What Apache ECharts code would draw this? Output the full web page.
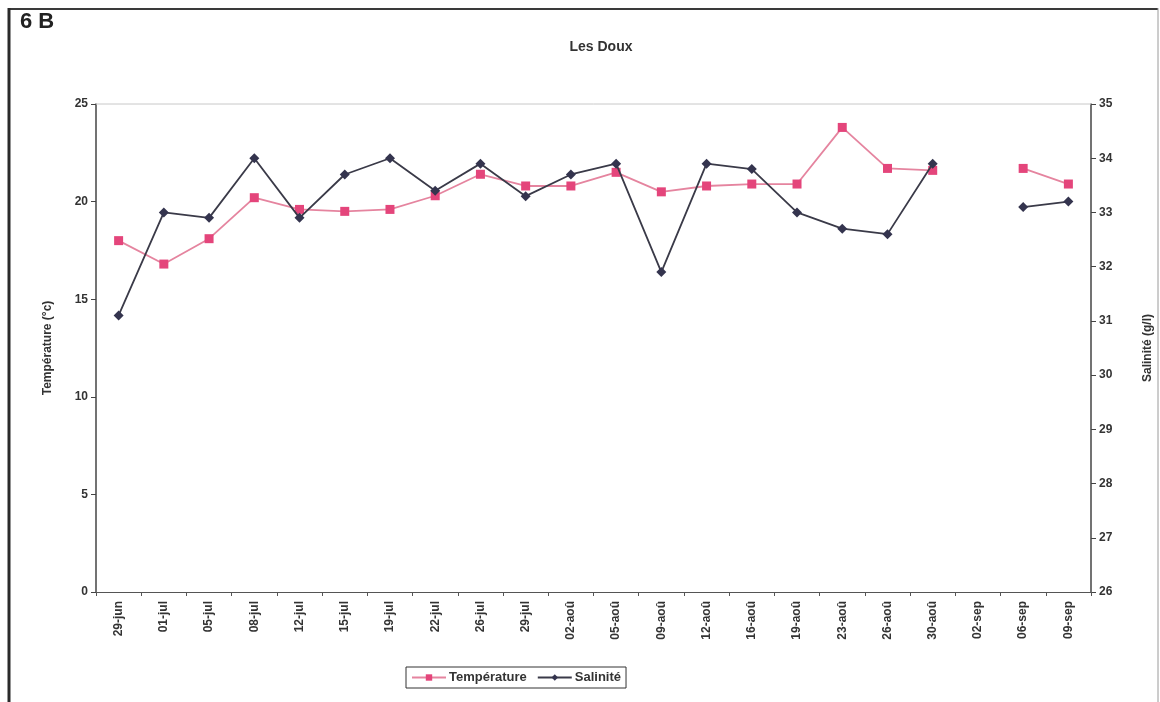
<!DOCTYPE html>
<html>
<head>
<meta charset="utf-8">
<title>Les Doux</title>
<script src="https://cdn.jsdelivr.net/npm/echarts@6/dist/echarts.min.js"></script>
<style>
  html, body { margin: 0; padding: 0; background: #fff; }
  #chart { width: 1160px; height: 702px; }
</style>
</head>
<body>
<div id="chart"></div>
<script>
// Sampling dates (2nd of September has no measurement)
const dates = ['29-jun', '01-jul', '05-jul', '08-jul', '12-jul', '15-jul', '19-jul', '22-jul',
  '26-jul', '29-jul', '02-aoû', '05-aoû', '09-aoû', '12-aoû', '16-aoû', '19-aoû', '23-aoû',
  '26-aoû', '30-aoû', '02-sep', '06-sep', '09-sep'];

// Water temperature (°C)
const temperature = [18.0, 16.8, 18.1, 20.2, 19.6, 19.5, 19.6, 20.3, 21.4, 20.8, 20.8, 21.5,
  20.5, 20.8, 20.9, 20.9, 23.8, 21.7, 21.6, null, 21.7, 20.9];

// Salinity (g/l)
const salinity = [31.1, 33.0, 32.9, 34.0, 32.9, 33.7, 34.0, 33.4, 33.9, 33.3, 33.7, 33.9,
  31.9, 33.9, 33.8, 33.0, 32.7, 32.6, 33.9, null, 33.1, 33.2];

const fontFamily = '"Liberation Sans", Arial, sans-serif';
const ink = '#333333';

const chart = echarts.init(document.getElementById('chart'), null, { renderer: 'canvas' });

chart.setOption({
  animation: false,
  backgroundColor: '#ffffff',
  textStyle: { fontFamily: fontFamily },
  title: {
    text: 'Les Doux',
    left: 596,
    textAlign: 'center',
    top: 35,
    textStyle: { fontSize: 14, fontWeight: 'bold', color: ink, fontFamily: fontFamily }
  },
  graphic: [
    // outer frame of the figure
    { type: 'line', shape: { x1: 8, y1: 9, x2: 1158, y2: 9 }, style: { stroke: '#3a3a3a', lineWidth: 2 }, z: 10 },
    { type: 'line', shape: { x1: 9, y1: 8, x2: 9, y2: 702 }, style: { stroke: '#2a2a2a', lineWidth: 3 }, z: 10 },
    { type: 'line', shape: { x1: 1158, y1: 8, x2: 1158, y2: 702 }, style: { stroke: '#9a9a9a', lineWidth: 1 }, z: 10 },
    // panel label
    {
      type: 'text', left: 20, top: 11,
      style: { text: '6 B', font: 'bold 22px "Liberation Sans", Arial, sans-serif', fill: '#222' }
    },
    // light top border of the plot area
    { type: 'line', shape: { x1: 96, y1: 104, x2: 1091, y2: 104 }, style: { stroke: '#c8c8c8', lineWidth: 1 }, z: 1 }
  ],
  legend: {
    bottom: 14,
    left: 406,
    itemWidth: 34,
    itemHeight: 8,
    itemGap: 10,
    padding: [4, 5, 4, 5],
    borderColor: '#333',
    borderWidth: 1,
    borderRadius: 0,
    textStyle: { fontSize: 13, fontWeight: 'bold', color: ink, fontFamily: fontFamily, padding: [0, 0, 0, -2] },
    data: ['Température', 'Salinité']
  },
  grid: { left: 96, right: 69, top: 104, bottom: 110, containLabel: false, outerBoundsMode: 'none' },
  xAxis: {
    type: 'category',
    data: dates,
    boundaryGap: true,
    axisLine: { lineStyle: { color: '#555', width: 1 } },
    axisTick: { show: true, inside: false, length: 4, alignWithLabel: false, lineStyle: { color: '#555' } },
    axisLabel: {
      rotate: 90, interval: 0, margin: 9,
      fontSize: 12, fontWeight: 'bold', color: ink, fontFamily: fontFamily
    },
    splitLine: { show: false }
  },
  yAxis: [
    {
      type: 'value',
      min: 0, max: 25, interval: 5,
      name: 'Température (°c)',
      nameLocation: 'middle',
      nameGap: 42,
      nameRotate: 90,
      nameTextStyle: { fontSize: 12, fontWeight: 'bold', color: ink, fontFamily: fontFamily },
      axisLine: { show: true, lineStyle: { color: '#444', width: 1.5 } },
      axisTick: { show: true, length: 5, lineStyle: { color: '#444' } },
      axisLabel: { fontSize: 12, fontWeight: 'bold', color: ink, margin: 8, fontFamily: fontFamily },
      splitLine: { show: false }
    },
    {
      type: 'value',
      min: 26, max: 35, interval: 1,
      position: 'right',
      name: 'Salinité (g/l)',
      nameLocation: 'middle',
      nameGap: 51,
      nameRotate: 90,
      nameTextStyle: { fontSize: 12, fontWeight: 'bold', color: ink, fontFamily: fontFamily },
      axisLine: { show: true, lineStyle: { color: '#444', width: 1.5 } },
      axisTick: { show: true, length: 5, lineStyle: { color: '#444' } },
      axisLabel: { fontSize: 12, fontWeight: 'bold', color: ink, margin: 8, fontFamily: fontFamily },
      splitLine: { show: false }
    }
  ],
  series: [
    {
      name: 'Température',
      type: 'line',
      yAxisIndex: 0,
      data: temperature,
      connectNulls: false,
      symbol: 'rect',
      symbolSize: 9,
      itemStyle: { color: '#e4457b' },
      lineStyle: { color: '#e5849f', width: 1.8 },
      z: 3
    },
    {
      name: 'Salinité',
      type: 'line',
      yAxisIndex: 1,
      data: salinity,
      connectNulls: false,
      symbol: 'diamond',
      symbolSize: 10,
      itemStyle: { color: '#34344e' },
      lineStyle: { color: '#3a3a48', width: 1.8 },
      z: 4
    }
  ]
});
</script>
</body>
</html>
